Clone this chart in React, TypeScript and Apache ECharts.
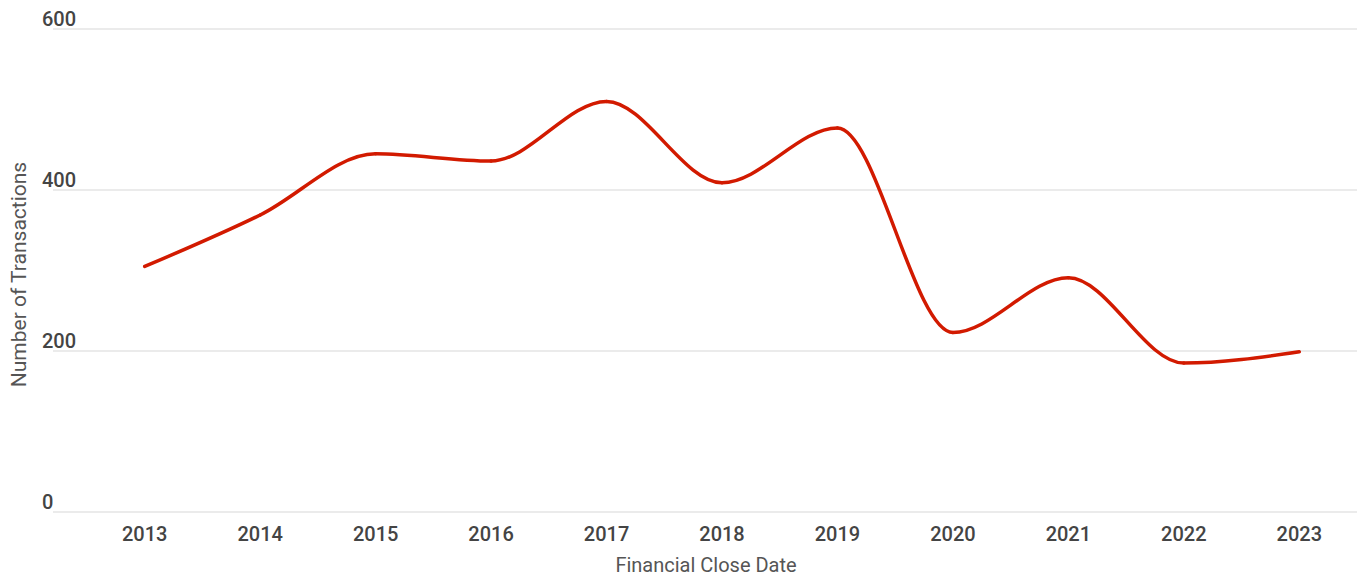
import React, { useEffect, useRef } from "react";
import * as echarts from "echarts";

const years = ["2013", "2014", "2015", "2016", "2017", "2018", "2019", "2020", "2021", "2022", "2023"];
const transactions = [305, 369, 445, 436, 510, 409, 477, 223, 291, 185, 199];
const yTicks = { min: 0, max: 600, interval: 200 };
const xAxisTitle = "Financial Close Date";
const yAxisTitle = "Number of Transactions";

function sign(v: number) {
  return v < 0 ? -1 : 1;
}

// monotone-x tangents (pixel space), as in d3's curveMonotoneX
function tangents(pts: number[][]) {
  const n = pts.length;
  const t = new Array(n).fill(0);
  for (let i = 1; i < n - 1; i++) {
    const [x0, y0] = pts[i - 1];
    const [x1, y1] = pts[i];
    const [x2, y2] = pts[i + 1];
    const h0 = x1 - x0;
    const h1 = x2 - x1;
    const s0 = (y1 - y0) / h0;
    const s1 = (y2 - y1) / h1;
    const p = (s0 * h1 + s1 * h0) / (h0 + h1);
    t[i] = (sign(s0) + sign(s1)) * Math.min(Math.abs(s0), Math.abs(s1), 0.5 * Math.abs(p)) || 0;
  }
  if (n > 2) {
    const h0 = pts[1][0] - pts[0][0];
    t[0] = (3 * (pts[1][1] - pts[0][1]) / h0 - t[1]) / 2;
    const hl = pts[n - 1][0] - pts[n - 2][0];
    t[n - 1] = (3 * (pts[n - 1][1] - pts[n - 2][1]) / hl - t[n - 2]) / 2;
  } else if (n === 2) {
    const s = (pts[1][1] - pts[0][1]) / (pts[1][0] - pts[0][0]);
    t[0] = s;
    t[1] = s;
  }
  return t;
}

export default function App() {
  const ref = useRef<HTMLDivElement>(null);
  useEffect(() => {
    document.body.style.margin = "0";
    const chart = echarts.init(ref.current!, undefined, { renderer: "svg" });
    const font = "Roboto, 'Noto Sans', sans-serif";
    chart.setOption({
      animation: false,
      grid: [
        { left: 41, right: 7, top: 29, bottom: 68 },
        { left: 87, right: 7, top: 29, bottom: 68 },
      ],
      xAxis: [
        { type: "category", gridIndex: 0, data: years, show: false },
        {
          type: "category",
          gridIndex: 1,
          data: years,
          boundaryGap: true,
          axisLine: { show: false },
          axisTick: { show: false },
          axisLabel: { fontFamily: font, fontSize: 20, fontWeight: 500, color: "#444", margin: 12 },
          name: xAxisTitle,
          nameLocation: "middle",
          nameGap: 43,
          nameTextStyle: { fontFamily: font, fontSize: 20, color: "#555", padding: [0, 32, 0, 0] },
        },
      ],
      yAxis: [
        {
          type: "value",
          gridIndex: 0,
          ...yTicks,
          axisLine: { show: false },
          axisTick: { show: false },
          splitLine: { show: true, lineStyle: { color: "#ebebeb", width: 2 } },
          axisLabel: {
            inside: true,
            margin: -11,
            align: "left",
            verticalAlign: "bottom",
            fontFamily: font,
            fontSize: 20,
            fontWeight: 500,
            color: "#444",
            lineHeight: 20,
            padding: 0,
          },
          name: yAxisTitle,
          nameLocation: "middle",
          nameGap: 24,
          nameRotate: 90,
          nameTextStyle: { fontFamily: font, fontSize: 21, color: "#555", padding: [0, 8, 0, 0] },
        },
        { type: "value", gridIndex: 1, ...yTicks, show: false, splitLine: { show: false } },
      ],
      series: [
        {
          type: "custom",
          coordinateSystem: "cartesian2d",
          xAxisIndex: 1,
          yAxisIndex: 1,
          data: transactions.map((v, i) => [i, v]),
          renderItem: (params: any, api: any) => {
            const i = params.dataIndex;
            if (i >= transactions.length - 1) return null;
            const pts = transactions.map((v, j) => api.coord([j, v]));
            const t = tangents(pts);
            const [x0, y0] = pts[i];
            const [x1, y1] = pts[i + 1];
            const dx = (x1 - x0) / 3;
            return {
              type: "bezierCurve",
              shape: {
                x1: x0,
                y1: y0,
                cpx1: x0 + dx,
                cpy1: y0 + dx * t[i],
                cpx2: x1 - dx,
                cpy2: y1 - dx * t[i + 1],
                x2: x1,
                y2: y1,
              },
              style: { stroke: "#d21a00", lineWidth: 3.5, fill: "none", lineCap: "round" },
            };
          },
        },
      ],
    });
    return () => chart.dispose();
  }, []);
  return <div ref={ref} style={{ width: 1364, height: 580, overflow: "hidden" }} />;
}
